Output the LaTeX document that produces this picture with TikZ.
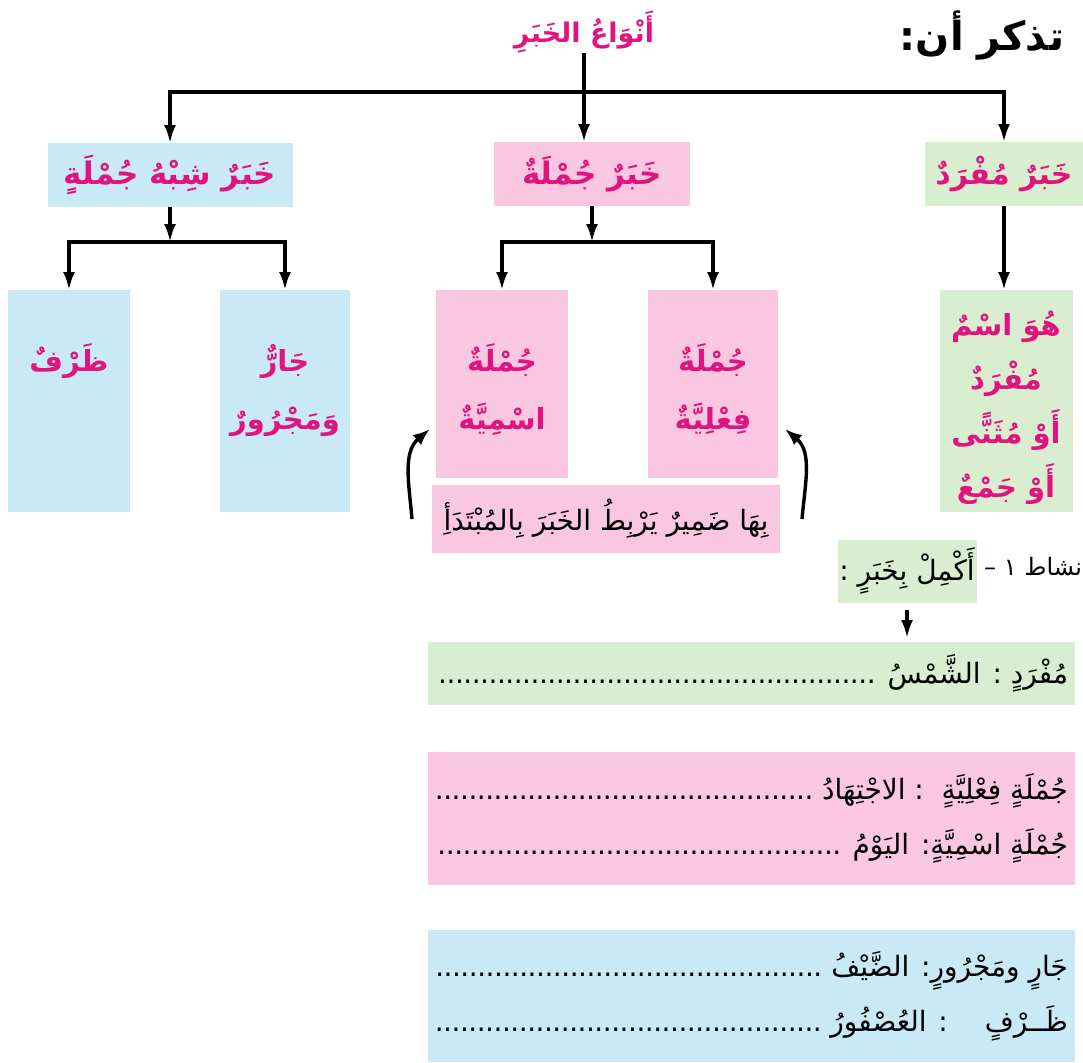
\documentclass[tikz,border=0pt]{standalone}
\usepackage{fontspec}
\usetikzlibrary{arrows.meta}
\TeXXeTstate=1
\newfontfamily\arabicfont[Script=Arabic]{DejaVu Sans}
\definecolor{khabarpink}{HTML}{E0147C}
\definecolor{boxpink}{HTML}{F9C7E1}
\definecolor{boxblue}{HTML}{C9E9F7}
\definecolor{boxgreen}{HTML}{D9EDD0}
\newcommand{\rtline}[1]{\beginR #1\endR}
\newcommand{\colcard}[4]{\parbox[c][#1][t]{#2}{\centering\vspace*{#3}#4\par}}
\newcommand{\dotline}[1]{\hbox to 633pt{\beginR #1\ \cleaders\hbox to 0.3em{\hss.\hss}\hfill\endR}}
\begin{document}
\begin{tikzpicture}[x=1pt,y=-1pt,
        arr/.style = {draw=black, line width=3.2pt, -{Latex[length=18pt,width=12pt]}},
        curl/.style = {arr, line width=3.4pt, -{Latex[length=17pt,width=13pt]}},
        card/.style = {inner sep=0pt, outer sep=0pt, text=khabarpink,
            font=\arabicfont\bfseries\fontsize{29}{58}\selectfont},
        body/.style = {text=black, font=\arabicfont\fontsize{28}{55}\selectfont},
        title/.style = {text=black, font=\arabicfont\bfseries\fontsize{40}{44}\selectfont}]
    \path[fill=white] (0,0) rectangle (1083,1062);
    \useasboundingbox (0,0) rectangle (1083,1062);

    \node[title] (remember) at (982,36) {\rtline{تذكر أن:}};
    \node[card, font=\arabicfont\bfseries\fontsize{27}{40}\selectfont] (types) at (584,32) {\rtline{أَنْوَاعُ الخَبَرِ}};
    \coordinate (topbar) at (584,92);

    \node[card, fill=boxblue, minimum width=245pt, minimum height=64pt, font=\arabicfont\bfseries\fontsize{31}{40}\selectfont] (shibh) at (170,175)
        {\rtline{خَبَرٌ شِبْهُ جُمْلَةٍ}};
    \node[card, fill=boxpink, minimum width=196pt, minimum height=64pt, font=\arabicfont\bfseries\fontsize{31}{40}\selectfont] (jumla) at (592,174)
        {\rtline{خَبَرٌ جُمْلَةٌ}};
    \node[card, fill=boxgreen, minimum width=158pt, minimum height=64pt, font=\arabicfont\bfseries\fontsize{30}{40}\selectfont] (mufrad) at (1004,174)
        {\rtline{خَبَرٌ مُفْرَدٌ}};

    % second row
    \coordinate (shibhbar) at (170,242);
    \coordinate (jumlabar) at (592,242);
    \node[card, fill=boxblue] (zarf) at (69,401)
        {\colcard{222pt}{122pt}{54pt}{\rtline{ظَرْفٌ}}};
    \node[card, fill=boxblue] (jar) at (285,401)
        {\colcard{222pt}{130pt}{54pt}{\rtline{جَارٌّ}\\\rtline{وَمَجْرُورٌ}}};
    \node[card, fill=boxpink] (ism) at (502,384)
        {\colcard{188pt}{132pt}{54pt}{\rtline{جُمْلَةٌ}\\\rtline{اسْمِيَّةٌ}}};
    \node[card, fill=boxpink] (fil) at (713,384)
        {\colcard{188pt}{130pt}{54pt}{\rtline{جُمْلَةٌ}\\\rtline{فِعْلِيَّةٌ}}};
    \node[card, fill=boxgreen, font=\arabicfont\bfseries\fontsize{29}{54}\selectfont] (desc) at (1006,401)
        {\colcard{222pt}{133pt}{21pt}{\rtline{هُوَ اسْمٌ}\\\rtline{مُفْرَدٌ}\\\rtline{أَوْ مُثَنًّى}\\\rtline{أَوْ جَمْعٌ}}};
    \node[card, body, fill=boxpink, minimum width=348pt, minimum height=68pt] (note) at (606,519)
        {\rtline{بِهَا ضَمِيرٌ يَرْبِطُ الخَبَرَ بِالمُبْتَدَأِ}};

    % activity
    \node[card, body, fill=boxgreen, minimum width=139pt, minimum height=63pt] (act) at (907,571)
        {\rtline{أَكْمِلْ بِخَبَرٍ :}};
    \node[body, anchor=west, inner sep=0pt, font=\arabicfont\fontsize{24}{30}\selectfont] (actno) at (984,567) {\rtline{نشاط ١ –}};
    \node[card, body, fill=boxgreen, minimum width=647pt, minimum height=63pt] (fill1) at (751.5,673.5)
        {\dotline{مُفْرَدٍ : الشَّمْسُ}};
    \node[card, body, fill=boxpink, minimum width=647pt, minimum height=133pt] (fill2) at (751.5,818.5)
        {\vbox{\dotline{جُمْلَةٍ فِعْلِيَّةٍ \ :\ الاجْتِهَادُ}\dotline{جُمْلَةٍ اسْمِيَّةٍ: اليَوْمُ}}};
    \node[card, body, fill=boxblue, minimum width=647pt, minimum height=132pt] (fill3) at (751.5,996)
        {\vbox{\dotline{جَارٍ ومَجْرُورٍ: الضَّيْفُ}\dotline{ظَــرْفٍ \quad : العُصْفُورُ}}};

    % connectors
    \draw[line width=3.2pt] (types.south) -- (topbar);
    \draw[arr] (topbar) -| (shibh.north);
    \draw[arr] (topbar) -| (mufrad.north);
    \draw[arr] (topbar) -- (topbar |- jumla.north);
    \draw[arr] (shibh.south) -- (shibhbar);
    \draw[arr] (shibhbar) -| (zarf.north);
    \draw[arr] (shibhbar) -| (jar.north);
    \draw[arr] (jumla.south) -- (jumlabar);
    \draw[arr] (jumlabar) -| (ism.north);
    \draw[arr] (jumlabar) -| (fil.north);
    \draw[arr] (mufrad.south) -- (mufrad.south |- desc.north);
    \draw[curl] ([xshift=-20pt]note.west) to[out=95,in=220] ([xshift=-6pt,yshift=-45pt]ism.west);
    \draw[curl] ([xshift=22pt]note.east) to[out=85,in=-40] ([xshift=7pt,yshift=-45pt]fil.east);
    \draw[arr, shorten <=7pt, shorten >=4pt] (act.south) -- (act.south |- fill1.north);
\end{tikzpicture}
\end{document}
